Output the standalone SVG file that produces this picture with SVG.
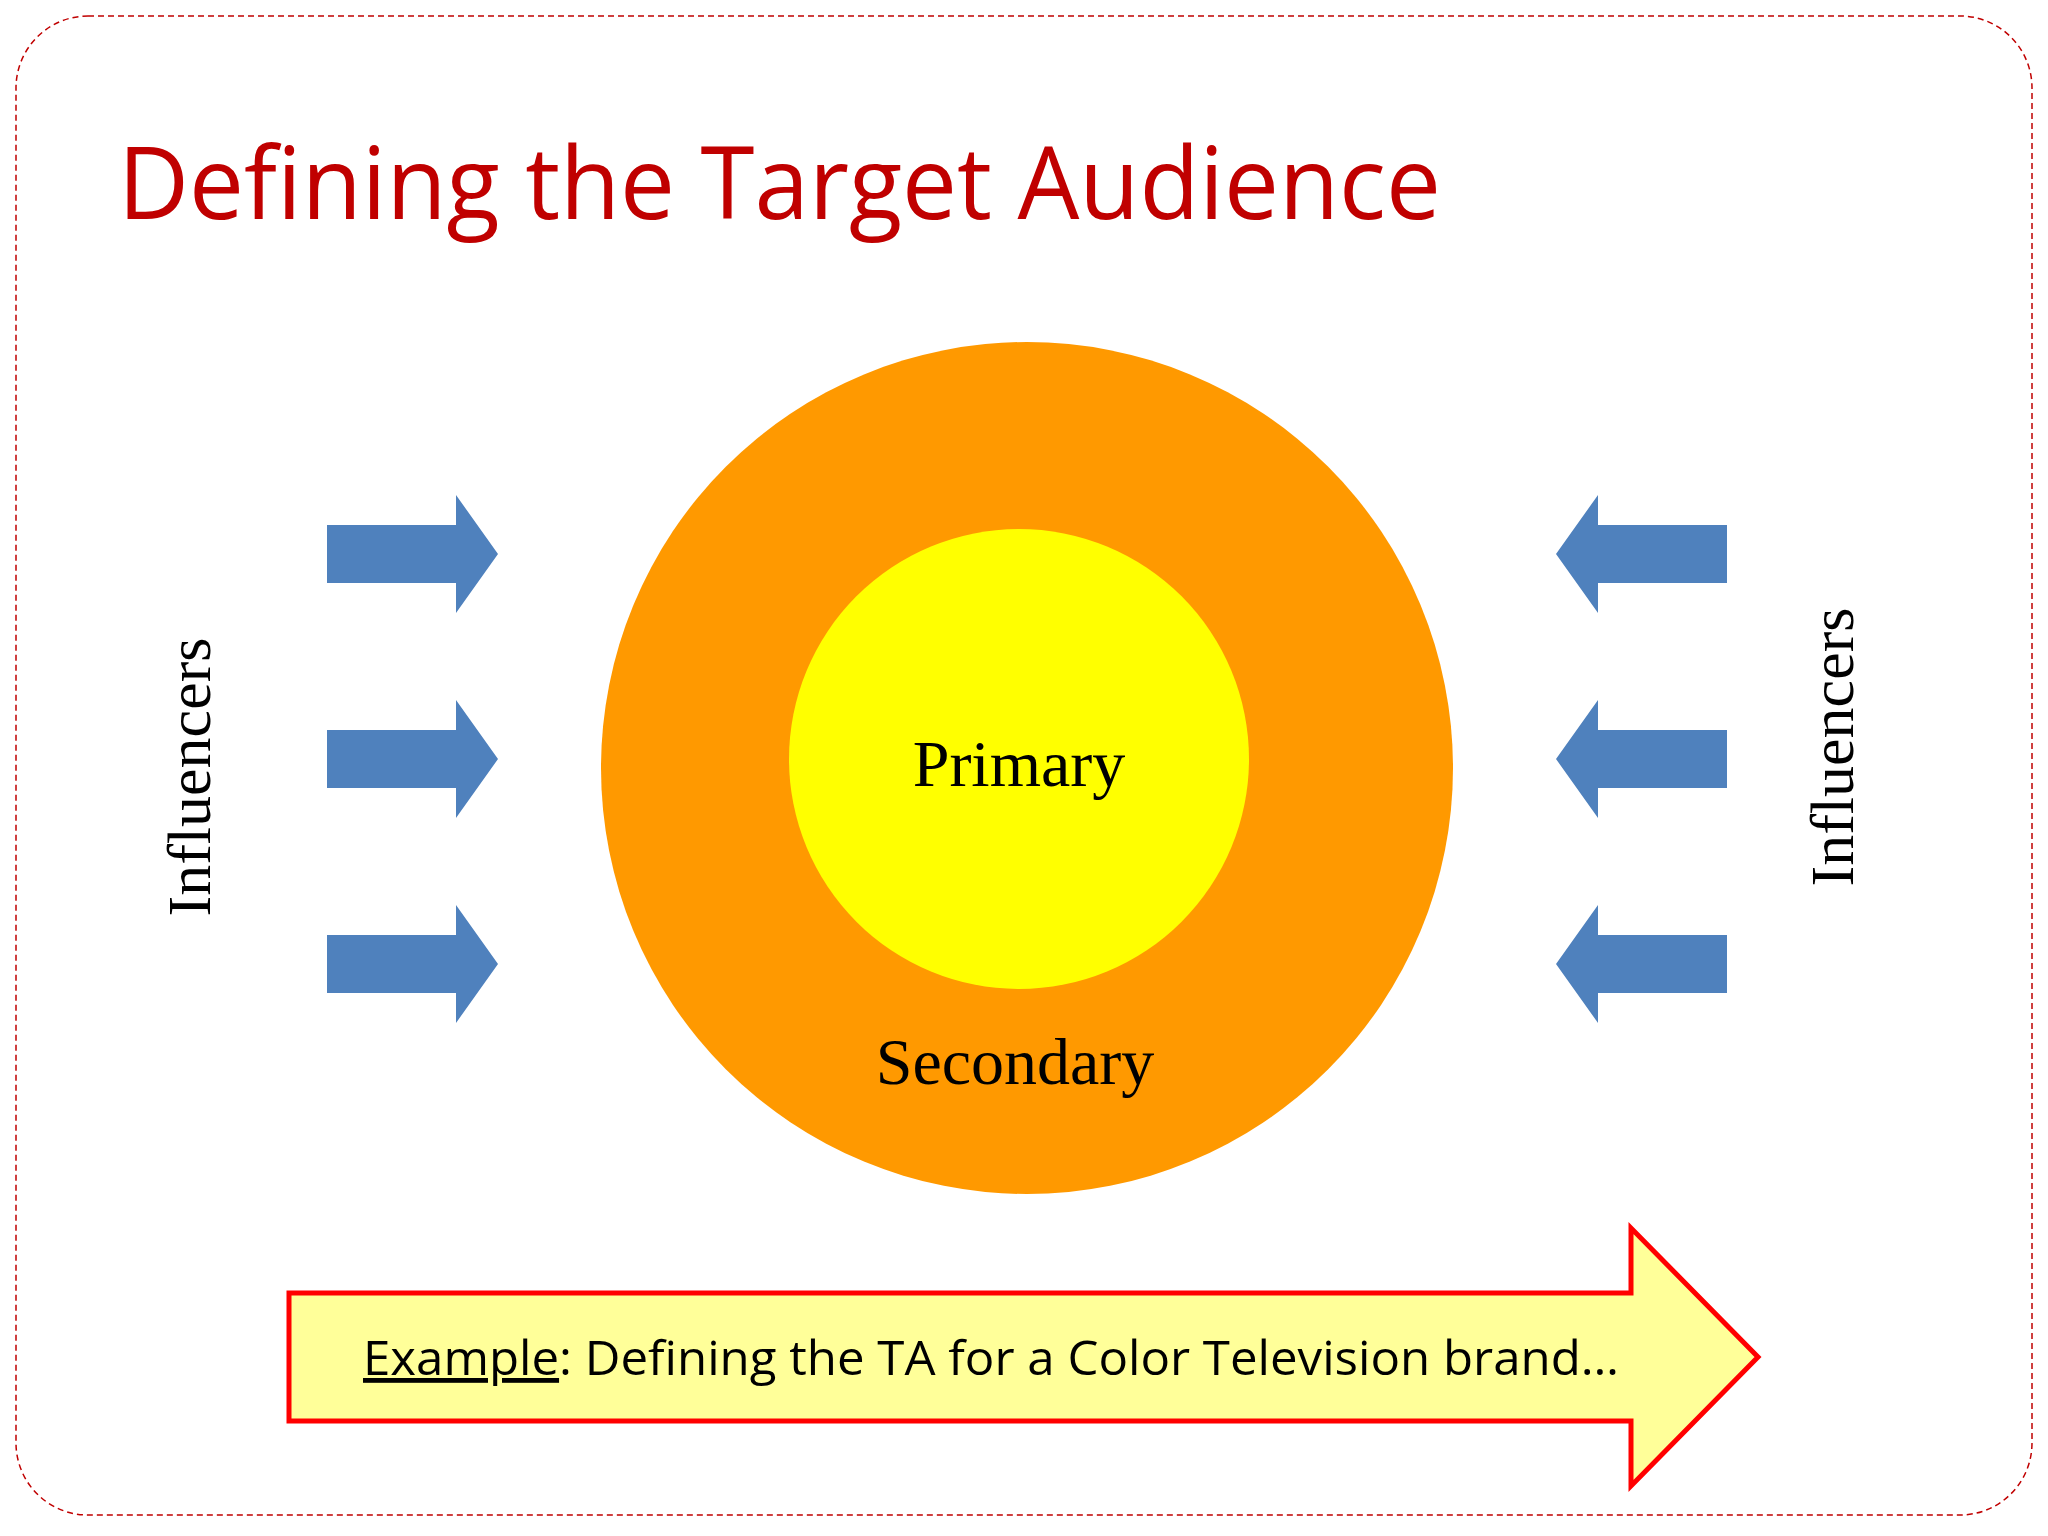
<svg xmlns="http://www.w3.org/2000/svg" width="2048" height="1536" viewBox="0 0 2048 1536">
<defs>
<style>
.arr{fill:#4F81BD}
.serif{font-family:"Liberation Serif","Times New Roman",serif;fill:#000}
.sans{font-family:"Open Sans","Liberation Sans",sans-serif}
</style>
<path id="ra" d="M0,-29 H129 V-59 L171,0 L129,59 V29 H0 Z"/>
</defs>
<rect width="2048" height="1536" fill="#fff"/>
<rect x="16" y="16" width="2016" height="1499" rx="72" fill="none" stroke="#C00000" stroke-width="1.5" stroke-dasharray="6,4"/>
<text class="sans" x="118" y="219" font-size="100" fill="#C00000" textLength="1323" lengthAdjust="spacingAndGlyphs">Defining the Target Audience</text>
<g id="secondary">
<circle cx="1027" cy="768" r="426" fill="#FF9900"/>
<text class="serif" x="1015" y="1084" font-size="66" text-anchor="middle">Secondary</text>
</g>
<g id="primary">
<circle cx="1019" cy="759" r="230" fill="#FFFF00"/>
<text class="serif" x="1019" y="786" font-size="66" text-anchor="middle">Primary</text>
</g>
<g id="connectors">
<use href="#ra" class="arr" transform="translate(327,554)"/>
<use href="#ra" class="arr" transform="translate(327,759)"/>
<use href="#ra" class="arr" transform="translate(327,964)"/>
<use href="#ra" class="arr" transform="translate(1727,554) scale(-1,1)"/>
<use href="#ra" class="arr" transform="translate(1727,759) scale(-1,1)"/>
<use href="#ra" class="arr" transform="translate(1727,964) scale(-1,1)"/>
</g>
<g id="influencers-left">
<text class="serif" font-size="62" text-anchor="middle" transform="translate(210,777) rotate(-90)">Influencers</text>
</g>
<g id="influencers-right">
<text class="serif" font-size="62" text-anchor="middle" transform="translate(1853,747) rotate(-90)">Influencers</text>
</g>
<g id="example">
<path d="M289,1293 H1631 V1228 L1758,1357 L1631,1486 V1421 H289 Z" fill="#FFFF99" stroke="#FF0000" stroke-width="5"/>
<text class="sans" x="363" y="1375" font-size="48" fill="#000" textLength="1256" lengthAdjust="spacingAndGlyphs"><tspan text-decoration="underline">Example</tspan>: Defining the TA for a Color Television brand…</text>
</g>
</svg>
